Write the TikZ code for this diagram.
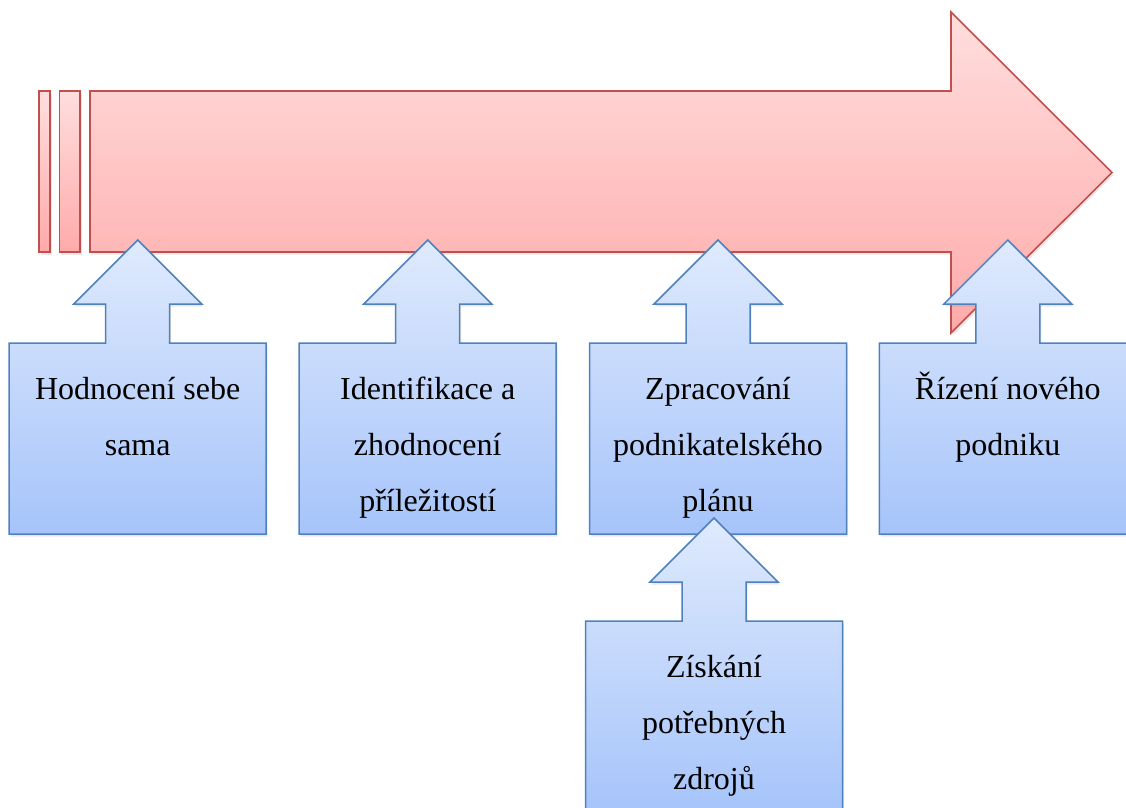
\documentclass[tikz,border=0pt]{standalone}
\usepackage{fontspec}
\setmainfont{Liberation Serif}
\usetikzlibrary{shadows}
\definecolor{arrowred}{HTML}{C0504D}
\definecolor{redtop}{HTML}{FFDEDE}
\definecolor{redbottom}{HTML}{FFAAAA}
\definecolor{calloutblue}{HTML}{4F81BD}
\definecolor{bluetop}{HTML}{DFEAFD}
\definecolor{bluebottom}{HTML}{A6C4FA}
\tikzset{
  timeline/.style = {draw=arrowred, line width=1.6pt, top color=redtop,
    bottom color=redbottom,
    drop shadow={opacity=0.18, shadow xshift=1.5pt, shadow yshift=-2.5pt}}
}
\tikzset{
  callout shape/.style = {draw=calloutblue, line width=1.5pt, top color=bluetop,
    bottom color=bluebottom,
    drop shadow={opacity=0.18, shadow xshift=1.5pt, shadow yshift=-2.5pt}}
}
\tikzset{
  every node/.style = {font=\fontsize{32}{56}\selectfont}
}
\tikzset{
  callout text/.style = {anchor=north, align=center, inner sep=0pt}
}
% #1 name, #2 centre x, #3 top of the box, #4 text
\newcommand{\callout}[4]{
  \path[callout shape]
    (#2-128.5,#3) -- (#2-32,#3) -- (#2-32,#3-39) -- (#2-64,#3-39) -- (#2,#3-103)
    -- (#2+64,#3-39) -- (#2+32,#3-39) -- (#2+32,#3) -- (#2+128.5,#3)
    -- (#2+128.5,#3+191) -- (#2-128.5,#3+191) -- cycle;
  \node[callout text] (#1) at (#2,#3+22) {\rule{0pt}{34pt}#4};
}

\begin{document}
\begin{tikzpicture}[x=1pt, y=-1pt]
  \clip (0,0) rectangle (1126,807);

  % time line
  \path[timeline] (39,91) rectangle (50,252);
  \path[timeline] (59.5,91) rectangle (80,252);
  \path[timeline] (90,91) -- (951,91) -- (951,12) -- (1112,172.5)
    -- (951,333) -- (951,252) -- (90,252) -- cycle;

  % phases
  \callout{hodnoceni}{137.7}{343}{Hodnocení sebe\\sama}
  \callout{identifikace}{427.7}{343}{Identifikace a\\zhodnocení\\příležitostí}
  \callout{plan}{718}{343}{Zpracování\\podnikatelského\\plánu}
  \callout{rizeni}{1007.8}{343}{Řízení nového\\podniku}
  \callout{zdroje}{714}{621}{Získání\\potřebných\\zdrojů}
\end{tikzpicture}
\end{document}
